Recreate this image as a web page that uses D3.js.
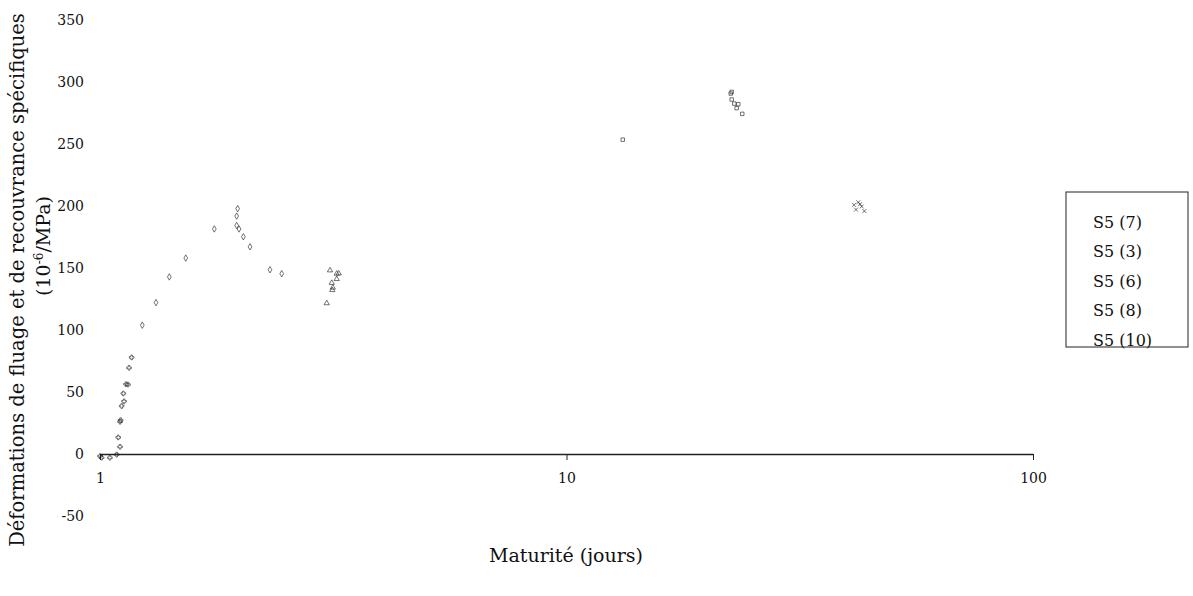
<!DOCTYPE html>
<html><head><meta charset="utf-8">
<script src="https://cdn.jsdelivr.net/npm/d3@7"></script>
<style>body{margin:0;background:#fff}svg{display:block}</style></head>
<body><svg id="c" width="1193" height="596"></svg>
<script>
// ---- data ----
const seriesNames = ["S5 (7)", "S5 (3)", "S5 (6)", "S5 (8)", "S5 (10)"];
const s7x = [1.0, 1.008, 1.05, 1.086, 1.104, 1.094, 1.104, 1.107, 1.113, 1.126, 1.122, 1.137, 1.148, 1.154, 1.169];
const s7y = [-1.7, -3, -3, -0.5, 5.8, 13.4, 26, 27.3, 38.7, 42.5, 48.8, 56.3, 56, 69.5, 77.9];
const s3x = [1.232, 1.318, 1.408, 1.527, 1.758, 1.973, 1.963, 1.963, 1.986, 2.029, 2.097, 2.314, 2.452];
const s3y = [103.9, 122.1, 142.8, 158, 181.5, 197.9, 191.9, 184.3, 181.5, 175.2, 167.1, 148.6, 145.4];
const s6x = [3.062, 3.112, 3.139, 3.148, 3.155, 3.217, 3.217, 3.249];
const s6y = [121.6, 148.1, 138, 132.2, 134.2, 145.4, 141.1, 145.6];
const s8x = [13.2, 22.49, 22.6, 22.6, 22.89, 23.16, 23.35, 23.81];
const s8y = [253.5, 290.7, 292, 285.9, 282.6, 278.9, 282.1, 274.3];
const s10x = [41.33, 42.22, 42.58, 42.94, 41.74, 43.5];
const s10y = [200.9, 203, 201.5, 199.6, 197.1, 195.9];
const yTicks = [-50, 0, 50, 100, 150, 200, 250, 300, 350];
const xTicks = [1, 10, 100];

const seriesX = [s7x, s3x, s6x, s8x, s10x];
const seriesY = [s7y, s3y, s6y, s8y, s10y];
const symbols = [d3.symbolCross, d3.symbolDiamond, d3.symbolTriangle, d3.symbolSquare, d3.symbolTimes];

const svg = d3.select("#c");
const font = "'DejaVu Serif', 'Liberation Serif', serif";
const x = d3.scaleLog().domain([1, 100]).range([100, 1033]);
const y = d3.scaleLinear().domain([-50, 350]).range([516, 20]);

// y tick labels (no axis line)
svg.append("g").selectAll("text").data(yTicks).join("text")
  .attr("x", 84).attr("y", d => y(d)).attr("dy", "0.35em")
  .attr("text-anchor", "end").attr("font-family", font).attr("font-size", 14)
  .attr("fill", "#111").text(d => d);

// x axis at y = 0
const xAxis = svg.append("g").attr("transform", `translate(0,${y(0)})`)
  .call(d3.axisBottom(x).tickValues(xTicks).tickFormat(d3.format("d")).tickSize(6).tickPadding(13).tickSizeOuter(0));
xAxis.select(".domain").attr("stroke", "#222").attr("stroke-width", 1.4);
xAxis.selectAll(".tick line").attr("stroke", "#222");
xAxis.selectAll(".tick text").attr("font-family", font).attr("font-size", 14).attr("fill", "#111");

// data marks
seriesX.forEach((xs, i) => {
  const pts = xs.map((v, j) => [v, seriesY[i][j]]);
  svg.append("g").selectAll("path").data(pts).join("path")
    .attr("transform", d => `translate(${x(d[0])},${y(d[1])})`)
    .attr("d", d3.symbol().type(symbols[i]).size(12))
    .attr("fill", "none").attr("stroke", "#222").attr("stroke-width", 0.8).attr("opacity", 0.8);
});

// axis titles
svg.append("text").attr("transform", "translate(24,280) rotate(-90)")
  .attr("text-anchor", "middle").attr("font-family", font).attr("font-size", 19.5).attr("fill", "#111")
  .text("Déformations de fluage et de recouvrance spécifiques");
const t2 = svg.append("text").attr("transform", "translate(50,246) rotate(-90)")
  .attr("text-anchor", "middle").attr("font-family", font).attr("font-size", 19).attr("fill", "#111");
t2.append("tspan").text("(10");
t2.append("tspan").attr("dy", -7).attr("font-size", 12).text("-6");
t2.append("tspan").attr("dy", 7).text("/MPa)");

svg.append("text").attr("x", 566).attr("y", 555).attr("dy", "0.35em")
  .attr("text-anchor", "middle").attr("font-family", font).attr("font-size", 19).attr("fill", "#111")
  .text("Maturité (jours)");

// legend
const lg = svg.append("g");
lg.append("rect").attr("x", 1066).attr("y", 192).attr("width", 122).attr("height", 155)
  .attr("fill", "none").attr("stroke", "#222").attr("stroke-width", 1);
lg.selectAll("text").data(seriesNames).join("text")
  .attr("x", 1093).attr("y", (d, i) => 222 + i * 29.5).attr("dy", "0.35em")
  .attr("font-family", font).attr("font-size", 16).attr("fill", "#111").text(d => d);
</script>
</body></html>
